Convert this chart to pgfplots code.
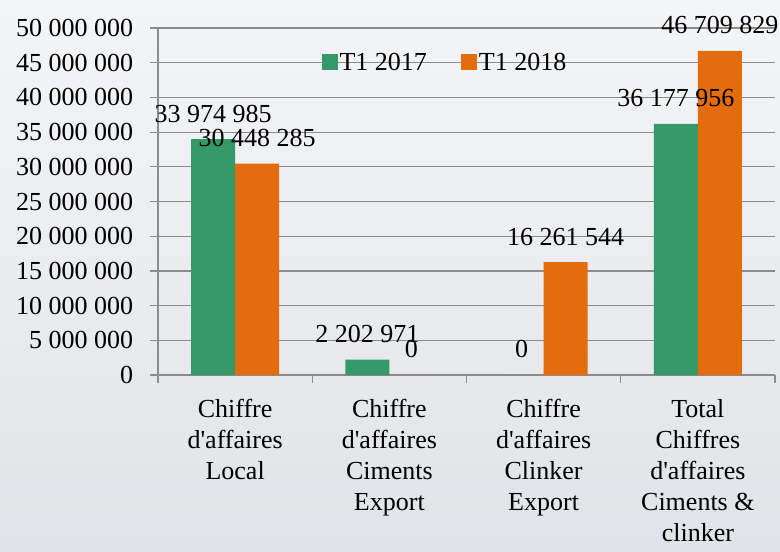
\documentclass[border=0pt]{standalone}
\usepackage{fontspec}
\setmainfont{Liberation Serif}
\usepackage{pgfplots}
\pgfplotsset{compat=1.18}
\definecolor{barGreen}{RGB}{52,152,104}
\definecolor{barOrange}{RGB}{227,108,12}
\definecolor{gridGray}{RGB}{140,140,140}
\begin{document}
\fontsize{26}{33}\selectfont
\begin{tikzpicture}
\shade[top color={rgb,255:red,244;green,245;blue,247}, bottom color={rgb,255:red,224;green,227;blue,231}] (0,0) rectangle (780pt,552pt);
\begin{axis}[
  at={(158pt,177pt)}, anchor=south west,
  width=617pt, height=347pt, scale only axis,
  ybar=0pt, bar width=44pt,
  ymin=0, ymax=50000000,
  xmin=-0.5, xmax=3.5,
  ytick={0,5000000,10000000,15000000,20000000,25000000,30000000,35000000,40000000,45000000,50000000},
  scaled y ticks=false,
  yticklabel style={xshift=-8pt, /pgf/number format/.cd, fixed, precision=0, 1000 sep={\ }, assume math mode=true},
  ymajorgrids, grid style={gridGray, line width=1.2pt},
  axis x line*=bottom, axis y line*=left,
  axis line style={-, gridGray, line width=1.2pt},
  tick align=outside, major tick length=8pt, minor tick length=8pt,
  tick style={gridGray, line width=1.2pt},
  xtick={0,1,2,3},
  xticklabels={Chiffre\\d\textquotesingle affaires\\Local, Chiffre\\d\textquotesingle affaires\\Ciments\\Export, Chiffre\\d\textquotesingle affaires\\Clinker\\Export, Total\\Chiffres\\d\textquotesingle affaires\\Ciments \&\\clinker},
  x tick label style={align=center, anchor=north, inner sep=1pt, yshift=-15pt, font=\fontsize{26}{31}\selectfont},
  major x tick style={draw=none},
  minor xtick={-0.5,0.5,1.5,2.5,3.5},
  nodes near coords, point meta=explicit symbolic,
  nodes near coords style={anchor=base, yshift=17pt, black},
  legend style={at={(0.465,0.896)}, anchor=center, draw=none, fill=none, legend columns=2,
    /tikz/every even column/.append style={column sep=32pt}},
  legend image code/.code={\fill[#1] (-4pt,-6pt) rectangle (12pt,10pt);},
]
\addplot[fill=barGreen, draw=none] coordinates {
  (0,33974985) [33 974 985]
  (1,2202971) [2 202 971]
  (2,0) [0]
  (3,36177956) [36 177 956]
};
\addplot[fill=barOrange, draw=none] coordinates {
  (0,30448285) [30 448 285]
  (1,0) [0]
  (2,16261544) [16 261 544]
  (3,46709829) [46 709 829]
};
\legend{T1 2017, T1 2018}
\end{axis}
\pgfresetboundingbox
\path (0,0) rectangle (780pt,552pt);
\end{tikzpicture}
\end{document}
